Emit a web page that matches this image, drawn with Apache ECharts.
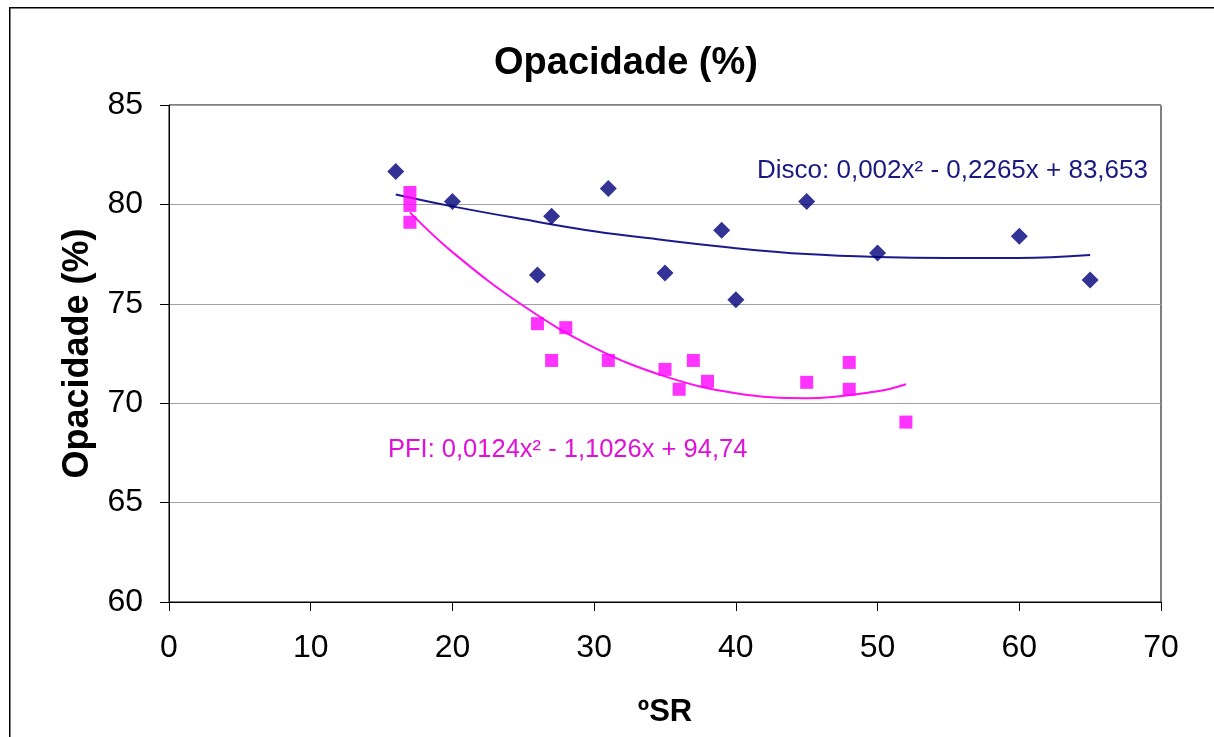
<!DOCTYPE html>
<html>
<head>
<meta charset="utf-8">
<script src="https://cdn.jsdelivr.net/npm/echarts@6/dist/echarts.min.js"></script>
<style>html,body{margin:0;padding:0;background:#fff;}#c{width:1214px;height:737px;}</style>
</head>
<body>
<div id="c"></div>
<script>
// Measured points
const discoX = [16, 20, 26, 27, 31, 35, 39, 40, 45, 50, 60, 65];
const discoY = [81.65, 80.15, 76.45, 79.4, 80.8, 76.55, 78.7, 75.2, 80.15, 77.55, 78.4, 76.2];
const pfiX = [17, 17, 17, 26, 27, 28, 31, 35, 36, 37, 38, 45, 48, 48, 52];
const pfiY = [80.6, 79.95, 79.1, 74.0, 72.15, 73.8, 72.15, 71.7, 70.7, 72.15, 71.1, 71.05, 72.05, 70.7, 69.05];
// Trendlines
const discoTrendX = [16, 20, 25, 30, 35, 40, 45, 50, 55, 60, 65];
const discoTrendY = [80.5, 79.9, 79.25, 78.65, 78.2, 77.8, 77.5, 77.35, 77.3, 77.3, 77.45];
const pfiTrendX = [17, 20, 25, 30, 35, 40, 45, 50, 52];
const pfiTrendY = [79.6, 77.6, 74.9, 72.8, 71.35, 70.5, 70.25, 70.6, 70.95];
// Texts
const titleText = 'Opacidade (%)';
const yTitle = 'Opacidade (%)';
const xTitle = 'ºSR';
const discoEq = 'Disco: 0,002x² - 0,2265x + 83,653';
const pfiEq = 'PFI: 0,0124x² - 1,1026x + 94,74';

const pair = (xs, ys) => xs.map((x, i) => [x, ys[i]]);
const FONT = '"Liberation Sans", Arial, sans-serif';

const chart = echarts.init(document.getElementById('c'), null, {renderer: 'canvas'});
chart.setOption({
  animation: false,
  backgroundColor: '#fff',
  textStyle: {fontFamily: FONT},
  title: {
    text: titleText, left: 621, top: 40, textAlign: 'center',
    textStyle: {fontFamily: FONT, fontSize: 38, fontWeight: 'bold', color: '#000'}
  },
  grid: {left: 169, right: 53, top: 105, bottom: 135, show: true, borderColor: '#000', borderWidth: 1, backgroundColor: 'transparent'},
  xAxis: {
    type: 'value', min: 0, max: 70, interval: 10,
    name: xTitle, nameLocation: 'middle', nameGap: 95,
    nameTextStyle: {fontFamily: FONT, fontSize: 31, fontWeight: 'bold', color: '#000'},
    axisLine: {show: true, lineStyle: {color: '#000', width: 1}},
    axisTick: {show: true, length: 9, inside: false, lineStyle: {color: '#000'}},
    axisLabel: {fontFamily: FONT, fontSize: 32, color: '#000', margin: 30},
    splitLine: {show: false}
  },
  yAxis: {
    type: 'value', min: 60, max: 85, interval: 5,
    name: yTitle, nameLocation: 'middle', nameGap: 72, nameRotate: 90,
    nameTextStyle: {fontFamily: FONT, fontSize: 36, fontWeight: 'bold', color: '#000'},
    axisLine: {show: true, lineStyle: {color: '#000', width: 1}},
    axisTick: {show: true, length: 9, inside: false, lineStyle: {color: '#000'}},
    axisLabel: {fontFamily: FONT, fontSize: 32, color: '#000', margin: 26},
    splitLine: {show: true, lineStyle: {color: '#a0a0a0', width: 1}}
  },
  series: [
    {type: 'line', data: pair(discoTrendX, discoTrendY), smooth: 0.4, showSymbol: false,
     lineStyle: {color: '#1a1a8c', width: 2}, z: 2},
    {type: 'line', data: pair(pfiTrendX, pfiTrendY), smooth: 0.4, showSymbol: false,
     lineStyle: {color: '#ff10f0', width: 2}, z: 2},
    {type: 'scatter', data: pair(discoX, discoY), symbol: 'diamond', symbolSize: 17,
     itemStyle: {color: '#00007a'}, z: 3},
    {type: 'scatter', data: pair(pfiX, pfiY), symbol: 'rect', symbolSize: 13,
     itemStyle: {color: '#ff00ff'}, z: 3}
  ],
  graphic: [
    {type: 'rect', left: 9, top: 7, shape: {width: 1300, height: 900}, silent: true, z: -1,
     style: {fill: 'transparent', stroke: '#000', lineWidth: 1.5}},
    {type: 'text', left: 757, top: 158, z: 10,
     style: {text: discoEq, fontFamily: FONT, fontSize: 26, fill: '#1a1a80'}},
    {type: 'text', left: 388, top: 437, z: 10,
     style: {text: pfiEq, fontFamily: FONT, fontSize: 25.5, fill: '#e010d8'}}
  ]
});
</script>
</body>
</html>
